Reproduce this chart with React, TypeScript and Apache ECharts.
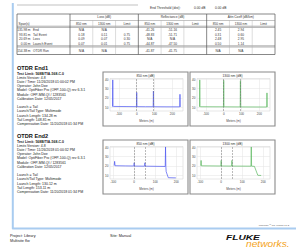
import React, { useEffect, useRef } from "react";
import * as echarts from "echarts";

const FONT = "'Liberation Sans', Arial, Helvetica, sans-serif";
const BLUE = "#4b55f0";
const GREEN = "#5ab85e";

// ---- summary table data ----
const groupHeaders = ["Loss (dB)", "Reflectance (dB)", "Attn Coeff (dB/km)"];
const subHeaders = ["850 nm", "1300 nm", "Limit"];
const spanDistances = ["135.98 m", "93.81 m", "20.69 m", "0.00 m"];
const spanEvents = ["End", "Tail Event", "Loss", "Launch Event"];
const totalSpan = ["154.38 m", "OTDR Run"];
const loss850 = ["N/A", "0.18", "0.09", "0.07"];
const loss1300 = ["N/A", "0.11", "0.07", "0.01"];
const lossLimit = ["", "0.75", "0.30", "0.75"];
const refl850 = ["-41.26", "-48.83", "N/A", "-44.87"];
const refl1300 = ["-51.16", "-51.71", "N/A", "-47.50"];
const reflLimit = ["", "", "", ""];
const attn850 = ["2.45", "0.31", "2.48", "0.50"];
const attn1300 = ["2.94", "0.60", "2.95", "1.14"];
const attnLimit = ["", "", "", ""];
const totalRow = ["N/A", "N/A", "", "-41.87", "-41.75", "", "N/A", "N/A", ""];

// ---- text blocks ----
const end1Lines = [
  "Test Limit: 568B/TIA-568-C.0",
  "Limits Version: 4.8",
  "Date / Time: 11/26/2018 01:00:02 PM",
  "Operator: John Doe",
  "Model: OptiFiber Pro (OFP-100-Q) rev 6.3.1",
  "Module: OFP-MM-QI / 1283561",
  "Calibration Date: 12/05/2017",
  "",
  "Launch = Tail",
  "Launch/Tail Type: Multimode",
  "Launch Length: 134.28 m",
  "Tail Length: 148.81 m",
  "Compensation Date: 11/20/2018 01:34 PM",
];
const end2Lines = [
  "Test Limit: 568B/TIA-568-C.0",
  "Limits Version: 4.8",
  "Date / Time: 11/26/2018 01:00:32 PM",
  "Operator: John Doe",
  "Model: OptiFiber Pro (OFP-100-Q) rev 6.3.1",
  "Module: OFP-MM-QI / 1283561",
  "Calibration Date: 12/05/2017",
  "",
  "Launch = Tail",
  "Launch/Tail Type: Multimode",
  "Launch Length: 130.12 m",
  "Tail Length: 153.11 m",
  "Compensation Date: 11/20/2018 01:34 PM",
];

// ---- traces ----
const chartTitles = ["850 nm (dB)", "1300 nm (dB)", "850 nm (dB)", "1300 nm (dB)"];
const xTicks = [-100, 0, 100, 200];
const yTicks = [10, 20, 30, 40];
const eventMarksEnd1 = [0, 93.81];
const eventMarksEnd2 = [0, 51];
const traceEnd1_850 = [
  [-136, 10.6], [-134.5, 39.5], [-133, 12], [-131, 10.9], [-60, 10.8], [-1.5, 10.7],
  [0, 26], [1.5, 10.7], [50, 10.6], [92.5, 10.6], [93.8, 27.5], [95.2, 10.6],
  [170, 10.5], [241.5, 10.5], [243, 24], [244.5, 10.3], [246, 10.1],
];
const traceEnd1_1300 = [
  [-136, 10.4], [-134.5, 39.5], [-133, 11.5], [-131, 10.6], [-1.5, 10.5], [0, 39],
  [1.5, 10.5], [92.5, 10.4], [93.8, 38.5], [95.2, 10.4], [241.5, 10.3], [243, 25.5],
  [244.5, 10.2], [246, 10.0],
];
const traceEnd2_850 = [
  [-95, 20.5], [-93, 25], [-91, 20.3], [-40, 20.1], [-1.5, 20], [0, 23.5], [1.5, 19.9],
  [49.5, 19.8], [51, 23.5], [52.5, 19.8], [147.5, 19.5], [149, 40.5], [150.5, 19.5],
  [152, 14], [162, 7.4], [198, 7.2],
];
const traceEnd2_1300 = [
  [-97, 20.3], [-95.5, 26], [-94, 20.2], [-1.5, 20], [0, 26], [1.5, 20], [49.5, 19.9],
  [51, 26], [52.5, 19.9], [141.5, 19.8], [143, 40.5], [144.5, 19.8], [158, 19.6],
  [174, 10], [190, 9.8],
];

const boxes = [
  { x: 103, y: 72 },
  { x: 190, y: 72 },
  { x: 103, y: 140 },
  { x: 190, y: 140 },
];
const BOX_W = 85;
const BOX_H = 54;

function buildOption() {
  const els: any[] = [];
  const T = (x: number, y: number, text: string, o: any = {}) =>
    els.push({
      type: "text",
      x,
      y,
      silent: true,
      scaleX: o.sx ?? 1,
      style: {
        text,
        fontSize: o.fs ?? 3.2,
        fontFamily: FONT,
        fontWeight: o.fw ?? "normal",
        fontStyle: o.st ?? "normal",
        fill: o.fill ?? "#333",
        align: o.align ?? "left",
        verticalAlign: "middle",
      },
    });
  const L = (x1: number, y1: number, x2: number, y2: number, stroke = "#999", w = 0.5) =>
    els.push({ type: "line", silent: true, shape: { x1, y1, x2, y2 }, style: { stroke, lineWidth: w } });

  // blue frame
  els.push({
    type: "polyline",
    silent: true,
    shape: { points: [[12.8, 3], [12.8, 228.5], [297, 228.5]] },
    style: { stroke: "#a9ccf0", lineWidth: 2, lineJoin: "round", fill: "none" },
  });

  // top line and threshold text
  L(17, 5, 138, 5, "#999", 0.6);
  T(150, 8, "End Threshold (dist):", { fs: 3.3 });
  T(194, 8, "0.00 dB", { fs: 3.3 });
  T(215, 8, "0.00 dB", { fs: 3.3 });

  // ---- table ----
  const x0 = 17, x1 = 275, spanR = 70;
  const sw = (x1 - spanR) / 9;
  const top = 14, grpBottom = 20.5, headBottom = 26.2, dataTop = 27.4, rowH = 4.6;
  const dataBottom = dataTop + rowH * 4;
  const sumTop = dataBottom + 1.2, bottom = 54.5;
  const cols = [loss850, loss1300, lossLimit, refl850, refl1300, reflLimit, attn850, attn1300, attnLimit];

  els.push({
    type: "rect",
    silent: true,
    shape: { x: x0, y: top, width: x1 - x0, height: bottom - top },
    style: { fill: "none", stroke: "#555", lineWidth: 0.7 },
  });
  L(spanR, grpBottom, x1, grpBottom, "#888", 0.5);
  L(x0, headBottom, x1, headBottom, "#666", 0.5);
  L(x0, dataTop, x1, dataTop, "#666", 0.5);
  L(x0, dataBottom, x1, dataBottom, "#666", 0.5);
  L(x0, sumTop, x1, sumTop, "#666", 0.5);
  for (let g = 0; g < 3; g++) {
    const gx = spanR + g * 3 * sw;
    L(gx, top, gx, bottom, "#555", 0.7);
    T(gx + 1.5 * sw, (top + grpBottom) / 2, groupHeaders[g], { align: "center" });
    for (let s = 0; s < 3; s++) {
      const sx = gx + s * sw;
      if (s > 0) L(sx, grpBottom, sx, bottom, "#aaa", 0.4);
      T(sx + sw / 2, (grpBottom + headBottom) / 2, subHeaders[s], { align: "center" });
    }
  }
  T(18.5, (grpBottom + headBottom) / 2, "Span(s)");
  for (let r = 0; r < 4; r++) {
    const cy = dataTop + rowH * (r + 0.5);
    T(30.5, cy, spanDistances[r], { align: "right" });
    T(33, cy, spanEvents[r]);
    cols.forEach((c, i) => {
      if (c[r]) T(spanR + sw * (i + 0.5), cy, c[r], { align: "center" });
    });
  }
  const sy = (sumTop + bottom) / 2;
  T(30.5, sy, totalSpan[0], { align: "right" });
  T(33, sy, totalSpan[1]);
  totalRow.forEach((v, i) => {
    if (v) T(spanR + sw * (i + 0.5), sy, v, { align: "center" });
  });

  // ---- text blocks ----
  const blocks = [
    { title: "OTDR End1", y: 67.5, lines: end1Lines },
    { title: "OTDR End2", y: 135.5, lines: end2Lines },
  ];
  blocks.forEach((b) => {
    T(17, b.y, b.title, { fs: 5.6, fw: "bold", fill: "#111" });
    b.lines.forEach((ln, i) => {
      if (ln) T(17, b.y + 6 + i * 4.2, ln, { fs: 3.5, fw: i === 0 ? "bold" : "normal", fill: "#222" });
    });
  });

  // ---- chart boxes ----
  boxes.forEach((bx, i) => {
    els.push({
      type: "rect",
      silent: true,
      shape: { x: bx.x, y: bx.y, width: BOX_W, height: BOX_H },
      style: { fill: "none", stroke: "#8a8a8a", lineWidth: 1.1 },
    });
    T(bx.x + BOX_W / 2, bx.y + 3.6, chartTitles[i], { fs: 3.3, align: "center" });
  });

  // ---- footer ----
  T(289, 225.4, "LinkWare\u2122 PC Version 10.2", { fs: 2.4, align: "right", fill: "#555" });
  T(10, 236, "Project: Library", { fs: 3.8, fill: "#222" });
  T(10, 240.8, "Multisite flw", { fs: 3.8, fill: "#222" });
  T(110, 236, "Site: Manual", { fs: 3.8, fill: "#222" });
  T(226, 237.5, "FLUKE", { fs: 7, fw: "bold", st: "italic", fill: "#111", sx: 1.45 });
  T(246, 244, "networks.", { fs: 8.5, st: "italic", fill: "#f4a41c", sx: 1.2 });

  // ---- grids / axes / series ----
  const traces = [
    { data: traceEnd1_850, color: BLUE, marks: eventMarksEnd1, min: -150, max: 260 },
    { data: traceEnd1_1300, color: GREEN, marks: eventMarksEnd1, min: -150, max: 260 },
    { data: traceEnd2_850, color: BLUE, marks: eventMarksEnd2, min: -115, max: 232 },
    { data: traceEnd2_1300, color: GREEN, marks: eventMarksEnd2, min: -115, max: 232 },
  ];
  const grid = boxes.map((bx) => ({
    left: bx.x + 7,
    top: bx.y + 6.5,
    width: 73,
    height: 32.5,
    show: true,
    borderColor: "#cfcfcf",
    borderWidth: 0.5,
  }));
  const xAxis = traces.map((t, i) => ({
    type: "value",
    gridIndex: i,
    min: t.min,
    max: t.max,
    name: "Meters (m)",
    nameLocation: "middle",
    nameGap: 8.5,
    nameTextStyle: { fontSize: 3, fontFamily: FONT, color: "#444" },
    axisLine: { show: false },
    axisTick: { show: false, customValues: xTicks },
    axisLabel: { customValues: xTicks, fontSize: 3, fontFamily: FONT, color: "#444", margin: 1.6 },
    splitLine: { show: true, lineStyle: { color: "#e3e3e3", width: 0.5 } },
  }));
  const yAxis = traces.map((t, i) => ({
    type: "value",
    gridIndex: i,
    min: 6,
    max: 41,
    axisLine: { show: false },
    axisTick: { show: false, customValues: yTicks },
    axisLabel: { customValues: yTicks, fontSize: 3, fontFamily: FONT, color: "#444", margin: 1.6 },
    splitLine: { show: true, lineStyle: { color: "#e3e3e3", width: 0.5 } },
  }));
  const series = traces.map((t, i) => ({
    type: "line",
    xAxisIndex: i,
    yAxisIndex: i,
    data: t.data,
    showSymbol: false,
    symbol: "none",
    lineStyle: { color: t.color, width: 0.7 },
    itemStyle: { color: t.color },
    silent: true,
    markLine: {
      silent: true,
      symbol: ["none", "none"],
      label: { show: false },
      lineStyle: { color: "#777", width: 0.5, type: "dashed" },
      data: t.marks.map((m) => ({ xAxis: m })),
    },
  }));

  return {
    animation: false,
    backgroundColor: "#fff",
    grid,
    xAxis,
    yAxis,
    series,
    graphic: { elements: els },
  };
}

export default function App() {
  const ref = useRef<HTMLDivElement>(null);
  useEffect(() => {
    const chart = echarts.init(ref.current!, null, { renderer: "svg" });
    chart.setOption(buildOption() as any);
    return () => chart.dispose();
  }, []);
  return (
    <div
      ref={ref}
      style={{ position: "absolute", left: 0, top: 0, width: 296, height: 251, background: "#fff" }}
    />
  );
}
